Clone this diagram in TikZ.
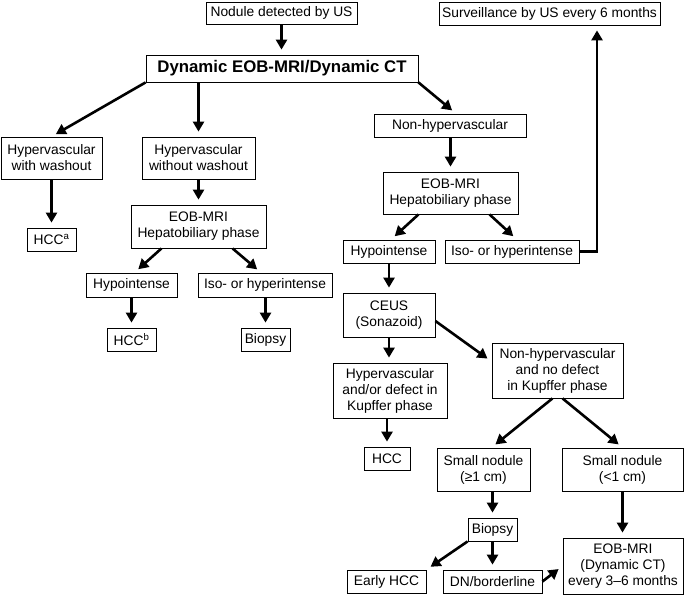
\documentclass[tikz,border=0pt]{standalone}
\usepackage{fontspec}
\setmainfont{Liberation Sans}
\usetikzlibrary{arrows.meta,positioning}

\begin{document}
\begin{tikzpicture}[x=1pt,y=-1pt,>={Triangle[length=10pt,width=11pt]},
    box/.style={draw,line width=0.8pt,align=center,inner sep=0pt,font=\fontsize{13.8}{16}\selectfont},
    arr/.style={->,line width=2.6pt,shorten >=5pt}]
      \useasboundingbox (0,0) rectangle (685,596);
      % top row
      \node [box,minimum width=151pt,minimum height=22pt] (nodule) at (281.5,13) {Nodule detected by US};
      \node [box,minimum width=221pt,minimum height=23pt] (surveil) at (549.5,13.5) {Surveillance by US every 6 months};
      \node [box,minimum width=272pt,minimum height=27pt,font=\fontsize{16.8}{19}\selectfont\bfseries] (dynamic) at (282,68.5) {Dynamic EOB-MRI/Dynamic CT};
      % left branches
      \node [box,minimum width=101pt,minimum height=42pt] (hvWash) at (51.5,158) {Hypervascular\\with washout};
      \node [box,minimum width=113pt,minimum height=42pt] (hvNoWash) at (198.5,158) {Hypervascular\\without washout};
      \node [box,minimum width=49pt,minimum height=23pt] (hccA) at (51.5,239.5) {HCC\textsuperscript{a}};
      \node [box,minimum width=135pt,minimum height=43pt] (eobLeft) at (198.5,226.5) {EOB-MRI\\Hepatobiliary phase};
      \node [box,minimum width=91pt,minimum height=24pt] (hypoLeft) at (131.5,285) {Hypointense};
      \node [box,minimum width=134pt,minimum height=24pt] (isoLeft) at (265,285) {Iso- or hyperintense};
      \node [box,minimum width=49pt,minimum height=23pt] (hccB) at (131.5,339.5) {HCC\textsuperscript{b}};
      \node [box,minimum width=49pt,minimum height=23pt] (biopsyLeft) at (265.5,339.5) {Biopsy};
      % right branch
      \node [box,minimum width=152pt,minimum height=23pt] (nonHv) at (450,125.5) {Non-hypervascular};
      \node [box,minimum width=135pt,minimum height=42pt] (eobRight) at (450.5,193) {EOB-MRI\\Hepatobiliary phase};
      \node [box,minimum width=92pt,minimum height=23pt] (hypoRight) at (389,251.5) {Hypointense};
      \node [box,minimum width=134pt,minimum height=23pt] (isoRight) at (512,251.5) {Iso- or hyperintense};
      \node [box,minimum width=92pt,minimum height=44pt] (ceus) at (389,315) {CEUS\\(Sonazoid)};
      \node [box,minimum width=114pt,minimum height=55pt] (hvDefect) at (390,390.5) {Hypervascular\\and/or defect in\\Kupffer phase};
      \node [box,minimum width=131pt,minimum height=55pt] (nonHvKupffer) at (557.5,370.5) {Non-hypervascular\\and no defect\\in Kupffer phase};
      \node [box,minimum width=46pt,minimum height=23pt] (hccRight) at (387,458.5) {HCC};
      \node [box,minimum width=93pt,minimum height=43pt] (smallBig) at (483.5,469.5) {Small nodule\\(≥1 cm)};
      \node [box,minimum width=121pt,minimum height=43pt] (smallTiny) at (622.5,469.5) {Small nodule\\(<1 cm)};
      \node [box,minimum width=49pt,minimum height=23pt] (biopsyRight) at (492.5,529.5) {Biopsy};
      \node [box,minimum width=79pt,minimum height=23pt] (earlyHcc) at (386.5,581.5) {Early HCC};
      \node [box,minimum width=99pt,minimum height=23pt] (dnBorder) at (492.5,581.5) {DN/borderline};
      \node [box,minimum width=120pt,minimum height=56pt] (eobDynamic) at (623,566) {EOB-MRI\\(Dynamic CT)\\every 3–6 months};
      % arrows
      \draw [arr] (nodule.south) -- (nodule.south |- dynamic.north);
      \draw [arr] (dynamic.south west) -- (hvWash.north);
      \draw [arr] (dynamic.south -| hvNoWash.north) -- (hvNoWash.north);
      \draw [arr] (dynamic.south east) -- ([xshift=6pt]nonHv.north);
      \draw [arr] (hvWash.south) -- (hccA.north);
      \draw [arr] (hvNoWash.south) -- (eobLeft.north);
      \draw [arr] ([xshift=-37pt]eobLeft.south) -- ([xshift=3pt]hypoLeft.north);
      \draw [arr] ([xshift=34pt]eobLeft.south) -- ([xshift=-4pt]isoLeft.north);
      \draw [arr] (hypoLeft.south) -- (hccB.north);
      \draw [arr] (isoLeft.south -| biopsyLeft.north) -- (biopsyLeft.north);
      \draw [arr] (nonHv.south -| eobRight.north) -- (eobRight.north);
      \draw [arr] ([xshift=-32pt]eobRight.south) -- ([xshift=2pt]hypoRight.north);
      \draw [arr] ([xshift=39pt]eobRight.south) -- ([xshift=5pt]isoRight.north);
      \draw [arr] (isoRight.east) -| ([xshift=47.5pt]surveil.south);
      \draw [arr] (hypoRight.south) -- (ceus.north);
      \draw [arr] (ceus.south) -- (ceus.south |- hvDefect.north);
      \draw [arr] ([yshift=-6pt]ceus.east) -- ([yshift=9pt]nonHvKupffer.west);
      \draw [arr] (hvDefect.south -| hccRight.north) -- (hccRight.north);
      \draw [arr] ([xshift=-5pt]nonHvKupffer.south) -- ([xshift=8pt]smallBig.north);
      \draw [arr] ([xshift=5pt]nonHvKupffer.south) -- (smallTiny.north);
      \draw [arr] (smallBig.south -| biopsyRight.north) -- (biopsyRight.north);
      \draw [arr] (smallTiny.south) -- (smallTiny.south |- eobDynamic.north);
      \draw [arr] (biopsyRight.south west) -- (earlyHcc.north east);
      \draw [arr] (biopsyRight.south) -- (dnBorder.north);
      \draw [arr] (dnBorder.east) -- (eobDynamic.west);
    \end{tikzpicture}
\end{document}
